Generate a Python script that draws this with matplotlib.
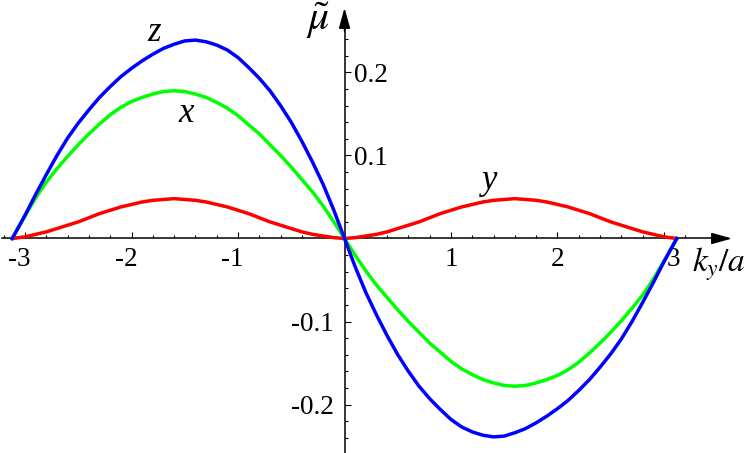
import matplotlib
matplotlib.use('Agg')
import matplotlib.pyplot as plt
import numpy as np
from matplotlib.ticker import FixedLocator

# k_y / a  sample points
k = [-3.12, -3.0, -2.9, -2.8, -2.7, -2.6, -2.5, -2.4, -2.3, -2.2, -2.1, -2.0,
     -1.9, -1.8, -1.7, -1.6, -1.5, -1.4, -1.3, -1.2, -1.1, -1.0, -0.9, -0.8,
     -0.7, -0.6, -0.5, -0.4, -0.3, -0.2, -0.1, 0.0, 0.1, 0.2, 0.3, 0.4, 0.5,
     0.6, 0.7, 0.8, 0.9, 1.0, 1.1, 1.2, 1.3, 1.4, 1.5, 1.6, 1.7, 1.8, 1.9,
     2.0, 2.1, 2.2, 2.3, 2.4, 2.5, 2.6, 2.7, 2.8, 2.9, 3.0, 3.12]

# z component (blue)
mu_z = [0.0, 0.028, 0.053, 0.077, 0.100, 0.121, 0.139, 0.155, 0.170, 0.183, 0.195, 0.205,
        0.214, 0.222, 0.229, 0.234, 0.238, 0.239, 0.237, 0.233, 0.227, 0.218, 0.206, 0.193,
        0.178, 0.160, 0.140, 0.117, 0.092, 0.065, 0.034, 0.0, -0.034, -0.065, -0.092, -0.117, -0.140,
        -0.160, -0.178, -0.193, -0.206, -0.218, -0.227, -0.233, -0.237, -0.239, -0.238, -0.234, -0.229, -0.222, -0.214,
        -0.205, -0.195, -0.183, -0.170, -0.155, -0.139, -0.121, -0.100, -0.077, -0.053, -0.028, 0.0]

# x component (green)
mu_x = [0.0, 0.027, 0.049, 0.068, 0.084, 0.099, 0.113, 0.126, 0.138, 0.149, 0.158, 0.165,
        0.170, 0.174, 0.177, 0.178, 0.177, 0.174, 0.170, 0.164, 0.157, 0.148, 0.137, 0.126,
        0.113, 0.100, 0.086, 0.071, 0.056, 0.039, 0.020, 0.0, -0.020, -0.039, -0.056, -0.071, -0.086,
        -0.100, -0.113, -0.126, -0.137, -0.148, -0.157, -0.164, -0.170, -0.174, -0.177, -0.178, -0.177, -0.174, -0.170,
        -0.165, -0.158, -0.149, -0.138, -0.126, -0.113, -0.099, -0.084, -0.068, -0.049, -0.027, 0.0]

# y component (red)
mu_y = [0.0, 0.002, 0.005, 0.008, 0.012, 0.016, 0.020, 0.025, 0.030, 0.034, 0.038, 0.041,
        0.044, 0.046, 0.047, 0.048, 0.047, 0.046, 0.044, 0.041, 0.038, 0.034, 0.030, 0.025,
        0.020, 0.016, 0.012, 0.008, 0.005, 0.003, 0.001, 0.0, 0.001, 0.003, 0.005, 0.008, 0.012,
        0.016, 0.020, 0.025, 0.030, 0.034, 0.038, 0.041, 0.044, 0.046, 0.047, 0.048, 0.047, 0.046, 0.044,
        0.041, 0.038, 0.034, 0.030, 0.025, 0.020, 0.016, 0.012, 0.008, 0.005, 0.002, 0.0]

x_major = [-3, -2, -1, 1, 2, 3]
x_labels = ['-3', '-2', '-1', '1', '2', '3']
y_major = [-0.2, -0.1, 0.1, 0.2]
y_labels = ['-0.2', '-0.1', '0.1', '0.2']

plt.rcParams['font.family'] = 'Liberation Serif'
plt.rcParams['mathtext.fontset'] = 'stix'

fig = plt.figure(figsize=(7.48, 4.53), dpi=100)
ax = fig.add_axes([0, 0, 1, 1])
ax.set_xlim(-3.235, 3.789)
ax.set_ylim(-0.2584, 0.2873)

lw = 2.5
ax.plot(k, mu_y, color='#ff0000', lw=lw, solid_joinstyle='round', zorder=3)
ax.plot(k, mu_x, color='#00ff00', lw=lw, solid_joinstyle='round', zorder=4)
ax.plot(k, mu_z, color='#0000ff', lw=lw, solid_joinstyle='round', zorder=5)

# axes through the origin
for side in ['top', 'right']:
    ax.spines[side].set_visible(False)
ax.spines['bottom'].set_position(('data', 0))
ax.spines['left'].set_position(('data', 0))
ax.spines['bottom'].set_bounds(-3.216, 3.55)
ax.spines['left'].set_bounds(-0.2584, 0.265)
for side in ['bottom', 'left']:
    ax.spines[side].set_linewidth(1.1)
    ax.spines[side].set_zorder(2)

arrow = dict(arrowstyle='-|>,head_length=1.25,head_width=0.35', mutation_scale=10,
             color='black', lw=1.1, shrinkA=0, shrinkB=0)
ax.annotate('', xy=(3.639, 0), xytext=(3.5, 0), arrowprops=arrow)
ax.annotate('', xy=(0, 0.2777), xytext=(0, 0.25), arrowprops=arrow)

# ticks
ax.xaxis.set_major_locator(FixedLocator(x_major))
ax.xaxis.set_minor_locator(FixedLocator([t for t in np.round(np.arange(-3.2, 3.21, 0.2), 2)
                                         if abs(t) > 1e-6 and abs(t - round(t)) > 1e-6]))
ax.yaxis.set_major_locator(FixedLocator(y_major))
ax.yaxis.set_minor_locator(FixedLocator([t for t in np.round(np.arange(-0.24, 0.241, 0.02), 2)
                                         if abs(t) > 1e-6 and abs(round(t * 10) - t * 10) > 1e-6]))
ax.tick_params(which='major', direction='in', length=4, width=0.8,
               labelbottom=False, labelleft=False)
ax.tick_params(which='minor', direction='in', length=2.5, width=0.8)

for v, s in zip(x_major, x_labels):
    dx = -4 if v < 0 else 0
    if v == 3:
        dx = 7
    ax.annotate(s, xy=(v, 0), xytext=(dx, -6), textcoords='offset points',
                ha='center', va='top', fontsize=19.5)
for v, s in zip(y_major, y_labels):
    if v > 0:
        ax.annotate(s, xy=(0, v), xytext=(7, 0), textcoords='offset points',
                    ha='left', va='center_baseline', fontsize=19.5)
    else:
        ax.annotate(s, xy=(0, v), xytext=(-7.5, 0), textcoords='offset points',
                    ha='right', va='center_baseline', fontsize=19.5)

# curve and axis labels
ax.text(-1.79, 0.248, 'z', style='italic', fontsize=25, ha='center', va='center')
ax.text(-1.49, 0.151, 'x', style='italic', fontsize=25, ha='center', va='center')
ax.text(1.36, 0.070, 'y', style='italic', fontsize=25, ha='center', va='center')
ax.text(-0.25, 0.262, r'$\tilde{\mu}$', fontsize=30, ha='center', va='center')
ax.text(3.52, -0.031, r'$k_y/a$', fontsize=24, ha='center', va='center')

fig.savefig('out.png', dpi=100)
